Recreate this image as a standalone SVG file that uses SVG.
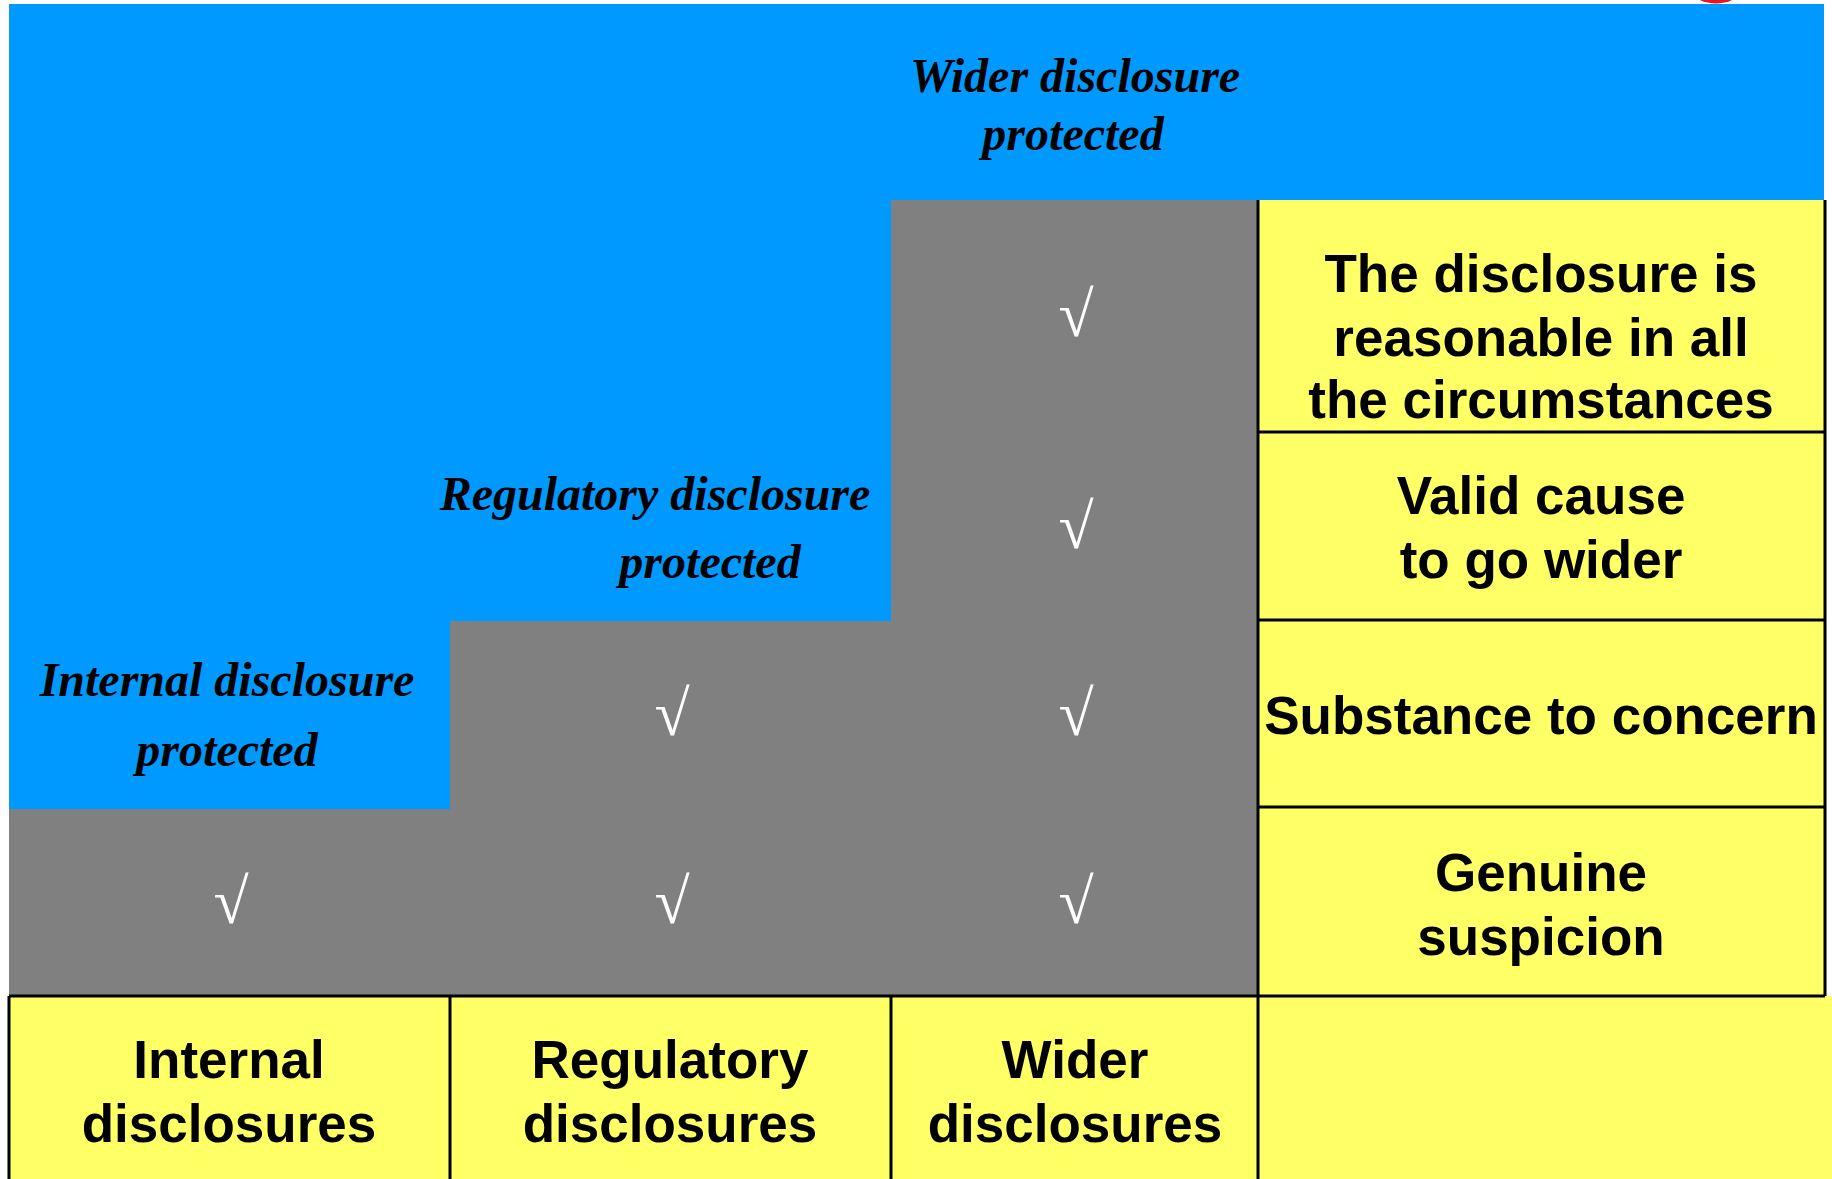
<svg xmlns="http://www.w3.org/2000/svg" width="1832" height="1179" viewBox="0 0 1832 1179">
<style>
.blue{fill:#0099FF}
.gray{fill:#808080}
.cell{fill:#FFFF66}
.ln{stroke:#000;stroke-width:3;fill:none}
.it{font-family:"Liberation Serif","Times New Roman",serif;font-style:italic;font-weight:bold;font-size:48px;fill:#000;text-anchor:middle}
.bd{font-family:"Liberation Sans",Arial,sans-serif;font-weight:bold;font-size:53px;fill:#000;text-anchor:middle}
.ck{font-family:"Liberation Serif","Times New Roman",serif;font-size:64px;fill:#fff;text-anchor:middle}
</style>
<rect width="1832" height="1179" fill="#fff"/>
<ellipse cx="1716" cy="-8" rx="22" ry="11.5" fill="#E8161C"/>
<g id="background">
<rect class="blue" x="9" y="4" width="1815" height="805"/>
<rect class="gray" x="891" y="200" width="367" height="796"/>
<rect class="gray" x="450" y="621" width="808" height="375"/>
<rect class="gray" x="9" y="809" width="1249" height="187"/>
</g>
<g id="zone-wider">
<text class="it" x="1075" y="92">Wider disclosure</text>
<text class="it" x="1073" y="150">protected</text>
</g>
<g id="zone-regulatory">
<text class="it" x="655" y="510">Regulatory disclosure</text>
<text class="it" x="710" y="578">protected</text>
</g>
<g id="zone-internal">
<text class="it" x="227" y="696">Internal disclosure</text>
<text class="it" x="227" y="766">protected</text>
</g>
<g id="checks">
<text class="ck" x="1076" y="336">√</text>
<text class="ck" x="1076" y="548">√</text>
<text class="ck" x="1076" y="735">√</text>
<text class="ck" x="672" y="735">√</text>
<text class="ck" x="1076" y="923">√</text>
<text class="ck" x="672" y="923">√</text>
<text class="ck" x="231" y="923">√</text>
</g>
<g id="crit-reasonable">
<rect class="cell" x="1258" y="200" width="567" height="232"/>
<text class="bd" x="1541" y="292">The disclosure is</text>
<text class="bd" x="1541" y="356">reasonable in all</text>
<text class="bd" x="1541" y="418">the circumstances</text>
</g>
<g id="crit-valid">
<rect class="cell" x="1258" y="432" width="567" height="188"/>
<text class="bd" x="1541" y="514">Valid cause</text>
<text class="bd" x="1541" y="578">to go wider</text>
</g>
<g id="crit-substance">
<rect class="cell" x="1258" y="620" width="567" height="187"/>
<text class="bd" x="1541" y="734">Substance to concern</text>
</g>
<g id="crit-genuine">
<rect class="cell" x="1258" y="807" width="567" height="189"/>
<text class="bd" x="1541" y="891">Genuine</text>
<text class="bd" x="1541" y="955">suspicion</text>
</g>
<g id="col-internal">
<rect class="cell" x="9" y="996" width="441" height="183"/>
<text class="bd" x="229" y="1078">Internal</text>
<text class="bd" x="229" y="1142">disclosures</text>
</g>
<g id="col-regulatory">
<rect class="cell" x="450" y="996" width="441" height="183"/>
<text class="bd" x="670" y="1078">Regulatory</text>
<text class="bd" x="670" y="1142">disclosures</text>
</g>
<g id="col-wider">
<rect class="cell" x="891" y="996" width="367" height="183"/>
<text class="bd" x="1075" y="1078">Wider</text>
<text class="bd" x="1075" y="1142">disclosures</text>
</g>
<g id="corner">
<rect class="cell" x="1258" y="996" width="574" height="183"/>
</g>
<g id="connectors">
<path class="ln" d="M1258 200V1179M1825 200V996M1258 432H1825M1258 620H1825M1258 807H1825M9 996H1825M9 996V1179M450 996V1179M891 996V1179"/>
</g>
</svg>
